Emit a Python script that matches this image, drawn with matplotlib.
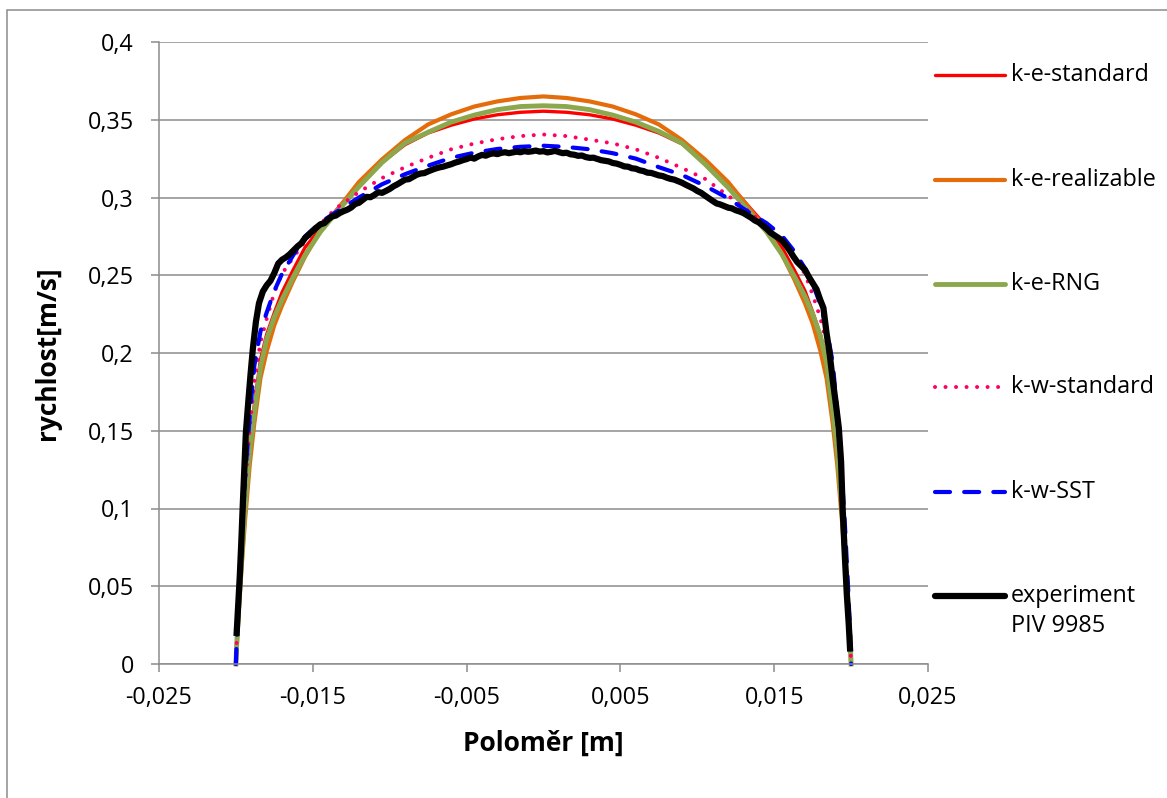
import matplotlib
matplotlib.use("Agg")
import matplotlib.pyplot as plt
from matplotlib.lines import Line2D
from matplotlib.patches import Rectangle

plt.rcParams['font.family'] = ['Open Sans', 'DejaVu Sans']

# ---- data -------------------------------------------------------------
# radial positions of the CFD profiles [m]
X_MODEL = [-0.0200, -0.01995, -0.0199, -0.0198, -0.0196, -0.0194, -0.0191, -0.0188,
           -0.0184, -0.0180, -0.0175, -0.0170, -0.0163, -0.0155, -0.0145, -0.0135,
           -0.0120, -0.0105, -0.0090, -0.0075, -0.0060, -0.0045, -0.0030, -0.0015,
           0.0,
           0.0015, 0.0030, 0.0045, 0.0060, 0.0075, 0.0090, 0.0105, 0.0120,
           0.0135, 0.0145, 0.0155, 0.0163, 0.0170, 0.0175, 0.0180, 0.0184,
           0.0188, 0.0191, 0.0194, 0.0196, 0.0198, 0.0199, 0.01995, 0.0200]

KE_STANDARD = [0.0, 0.013, 0.024, 0.043, 0.076, 0.105, 0.141, 0.167,
               0.196, 0.212, 0.226, 0.239, 0.253, 0.268, 0.280, 0.2915,
               0.3085, 0.3225, 0.334, 0.3415, 0.3465, 0.3505, 0.3532, 0.3548,
               0.3555,
               0.3548, 0.3532, 0.3505, 0.3465, 0.3415, 0.3345, 0.3235, 0.3095,
               0.2925, 0.2815, 0.268, 0.2535, 0.240, 0.2265, 0.212, 0.196,
               0.167, 0.141, 0.105, 0.076, 0.043, 0.024, 0.013, 0.0]

KE_REALIZABLE = [0.0, 0.010, 0.019, 0.036, 0.066, 0.093, 0.128, 0.155,
                 0.184, 0.201, 0.218, 0.2305, 0.246, 0.262, 0.279, 0.291,
                 0.310, 0.3245, 0.337, 0.347, 0.3535, 0.3585, 0.3618, 0.364,
                 0.365,
                 0.364, 0.3618, 0.3585, 0.3535, 0.347, 0.337, 0.3245, 0.310,
                 0.2915, 0.2795, 0.2635, 0.2475, 0.232, 0.219, 0.2015, 0.184,
                 0.155, 0.128, 0.093, 0.066, 0.036, 0.019, 0.010, 0.0]

KE_RNG = [0.0, 0.012, 0.022, 0.040, 0.072, 0.101, 0.137, 0.162,
          0.191, 0.209, 0.2233, 0.2345, 0.2484, 0.263, 0.278, 0.290,
          0.307, 0.3225, 0.335, 0.342, 0.3485, 0.353, 0.3565, 0.3585,
          0.359,
          0.3585, 0.3565, 0.353, 0.3485, 0.3425, 0.335, 0.3215, 0.3065,
          0.2895, 0.278, 0.2635, 0.2495, 0.2365, 0.225, 0.211, 0.194,
          0.163, 0.137, 0.101, 0.072, 0.040, 0.022, 0.012, 0.0]

KW_STANDARD = [0.0, 0.014, 0.026, 0.047, 0.083, 0.114, 0.152, 0.182,
               0.207, 0.222, 0.239, 0.251, 0.261, 0.272, 0.283, 0.293,
               0.3035, 0.3125, 0.3195, 0.3255, 0.331, 0.3347, 0.3375, 0.3395,
               0.3405,
               0.3395, 0.3372, 0.3348, 0.331, 0.3255, 0.319, 0.312, 0.3012,
               0.290, 0.2815, 0.2715, 0.261, 0.251, 0.2375, 0.2225, 0.207,
               0.182, 0.152, 0.114, 0.083, 0.047, 0.026, 0.014, 0.0]

KW_SST = [0.0, 0.015, 0.028, 0.050, 0.088, 0.120, 0.160, 0.192,
          0.214, 0.226, 0.240, 0.251, 0.2625, 0.275, 0.284, 0.2905,
          0.300, 0.3085, 0.315, 0.3205, 0.3255, 0.3288, 0.3312, 0.3326,
          0.3333,
          0.3325, 0.331, 0.3285, 0.325, 0.3195, 0.3145, 0.3075, 0.2995,
          0.2895, 0.2835, 0.2755, 0.2655, 0.2545, 0.2445, 0.2315, 0.216,
          0.194, 0.162, 0.121, 0.089, 0.050, 0.028, 0.015, 0.0]

# PIV measurement
X_EXP = [-0.01995, -0.01985, -0.01975, -0.01965, -0.01955, -0.01945, -0.01935, -0.01920,
         -0.01905, -0.01890, -0.01870, -0.01850, -0.01825, -0.01800, -0.01775, -0.01750,
         -0.01725, -0.01700, -0.01675, -0.01650, -0.01625, -0.01600, -0.01575, -0.01550,
         -0.01525, -0.01500, -0.01475, -0.01450, -0.01425, -0.01400, -0.01375, -0.01350,
         -0.01325, -0.01300, -0.01275, -0.01250, -0.01225, -0.01200, -0.01175, -0.01150,
         -0.01125, -0.01100, -0.01075, -0.01050, -0.01025, -0.01000, -0.00975, -0.00950,
         -0.00925, -0.00900, -0.00875, -0.00850, -0.00825, -0.00800, -0.00775, -0.00750,
         -0.00725, -0.00700, -0.00675, -0.00650, -0.00625, -0.00600, -0.00575, -0.00550,
         -0.00525, -0.00500, -0.00475, -0.00450, -0.00425, -0.00400, -0.00375, -0.00350,
         -0.00325, -0.00300, -0.00275, -0.00250, -0.00225, -0.00200, -0.00175, -0.00150,
         -0.00125, -0.00100, -0.00075, -0.00050, -0.00025, 0.00000, 0.00025, 0.00050,
         0.00075, 0.00100, 0.00125, 0.00150, 0.00175, 0.00200, 0.00225, 0.00250,
         0.00275, 0.00300, 0.00325, 0.00350, 0.00375, 0.00400, 0.00425, 0.00450,
         0.00475, 0.00500, 0.00525, 0.00550, 0.00575, 0.00600, 0.00625, 0.00650,
         0.00675, 0.00700, 0.00725, 0.00750, 0.00775, 0.00800, 0.00825, 0.00850,
         0.00875, 0.00900, 0.00925, 0.00950, 0.00975, 0.01000, 0.01025, 0.01050,
         0.01075, 0.01100, 0.01125, 0.01150, 0.01175, 0.01200, 0.01225, 0.01250,
         0.01275, 0.01300, 0.01325, 0.01350, 0.01375, 0.01400, 0.01425, 0.01450,
         0.01475, 0.01500, 0.01525, 0.01550, 0.01575, 0.01600, 0.01625, 0.01650,
         0.01675, 0.01700, 0.01725, 0.01750, 0.01775, 0.01800, 0.01820, 0.01840,
         0.01860, 0.01880, 0.01900, 0.01920, 0.01935, 0.01945, 0.01960, 0.01972,
         0.01985, 0.01993]

V_EXP = [0.0200, 0.0380, 0.0560, 0.0780, 0.1030, 0.1260, 0.1490, 0.1680,
         0.1860, 0.2025, 0.2200, 0.2320, 0.2395, 0.2435, 0.2465, 0.2515,
         0.2575, 0.2600, 0.2615, 0.2635, 0.2660, 0.2685, 0.2705, 0.2740,
         0.2762, 0.2785, 0.2808, 0.2828, 0.2835, 0.2860, 0.2878, 0.2884,
         0.2900, 0.2912, 0.2922, 0.2936, 0.2958, 0.2966, 0.2985, 0.3004,
         0.3002, 0.3016, 0.3034, 0.3030, 0.3042, 0.3055, 0.3072, 0.3085,
         0.3100, 0.3115, 0.3118, 0.3132, 0.3146, 0.3154, 0.3157, 0.3168,
         0.3178, 0.3187, 0.3194, 0.3199, 0.3207, 0.3214, 0.3224, 0.3231,
         0.3240, 0.3247, 0.3257, 0.3250, 0.3264, 0.3274, 0.3269, 0.3279,
         0.3284, 0.3279, 0.3287, 0.3291, 0.3285, 0.3290, 0.3295, 0.3291,
         0.3298, 0.3294, 0.3297, 0.3302, 0.3295, 0.3298, 0.3290, 0.3294,
         0.3300, 0.3292, 0.3285, 0.3288, 0.3278, 0.3275, 0.3268, 0.3270,
         0.3260, 0.3255, 0.3256, 0.3248, 0.3240, 0.3236, 0.3232, 0.3222,
         0.3218, 0.3210, 0.3200, 0.3198, 0.3188, 0.3185, 0.3175, 0.3170,
         0.3160, 0.3158, 0.3150, 0.3142, 0.3138, 0.3128, 0.3120, 0.3115,
         0.3105, 0.3095, 0.3082, 0.3070, 0.3058, 0.3042, 0.3030, 0.3012,
         0.2995, 0.2978, 0.2962, 0.2955, 0.2945, 0.2935, 0.2930, 0.2918,
         0.2910, 0.2900, 0.2885, 0.2870, 0.2852, 0.2840, 0.2820, 0.2800,
         0.2775, 0.2758, 0.2742, 0.2725, 0.2695, 0.2660, 0.2620, 0.2585,
         0.2560, 0.2535, 0.2490, 0.2450, 0.2410, 0.2340, 0.2290, 0.2130,
         0.2000, 0.1830, 0.1680, 0.1520, 0.1300, 0.1000, 0.0680, 0.0450,
         0.0250, 0.0100]

SERIES_NAMES = ["k-e-standard", "k-e-realizable", "k-e-RNG", "k-w-standard", "k-w-SST",
                "experiment\nPIV 9985"]

X_TICKS = [-0.025, -0.015, -0.005, 0.005, 0.015, 0.025]
X_TICK_LABELS = ["-0,025", "-0,015", "-0,005", "0,005", "0,015", "0,025"]
Y_TICKS = [0.0, 0.05, 0.10, 0.15, 0.20, 0.25, 0.30, 0.35, 0.40]
Y_TICK_LABELS = ["0", "0,05", "0,1", "0,15", "0,2", "0,25", "0,3", "0,35", "0,4"]

# ---- styling ----------------------------------------------------------
GRAY = "#8C8C8C"
W, H = 1167, 798
FS = 16.8

styles = [
    dict(color="#FF0000", lw=2.4, ls="-"),
    dict(color="#E46C0A", lw=3.0, ls="-"),
    dict(color="#8BA84C", lw=3.5, ls="-"),
    dict(color="#FF0066", lw=2.9, ls=(0, (0.01, 2.6)), dash_capstyle="round"),
    dict(color="#0000FF", lw=3.0, ls=(0, (3.6, 3.4)), dash_capstyle="round"),
    dict(color="#000000", lw=4.5, ls="-"),
]

fig = plt.figure(figsize=(W / 100, H / 100), dpi=100)
fig.patch.set_facecolor("white")

# outer chart frame
fig.patches.append(Rectangle((7 / W, -0.1), 1.2, 1 - 10 / H + 0.1,
                             transform=fig.transFigure, fill=False,
                             ec=GRAY, lw=1.1))

ax = fig.add_axes([159 / W, 1 - 664 / H, (928 - 159) / W, (664 - 42) / H])

profiles = [(X_MODEL, KE_STANDARD), (X_MODEL, KE_REALIZABLE), (X_MODEL, KE_RNG),
            (X_MODEL, KW_STANDARD), (X_MODEL, KW_SST), (X_EXP, V_EXP)]
for (xs, ys), st, name in zip(profiles, styles, SERIES_NAMES):
    ax.plot(xs, ys, label=name, clip_on=False, solid_joinstyle="round", **st)

ax.set_xlim(-0.025, 0.025)
ax.set_ylim(0, 0.4)
ax.set_xticks(X_TICKS)
ax.set_xticklabels(X_TICK_LABELS)
ax.set_yticks(Y_TICKS)
ax.set_yticklabels(Y_TICK_LABELS)
ax.tick_params(axis="both", direction="out", length=6, width=1.1, color=GRAY,
               labelsize=FS, labelcolor="black")
ax.tick_params(axis="x", pad=10)
ax.tick_params(axis="y", pad=12)

ax.yaxis.grid(True, color=GRAY, lw=1.1)
ax.set_axisbelow(True)
for side in ("top", "right"):
    ax.spines[side].set_visible(False)
for side in ("left", "bottom"):
    ax.spines[side].set_color(GRAY)
    ax.spines[side].set_linewidth(1.1)

ax.set_xlabel("Poloměr [m]", fontsize=19, fontweight="bold")
ax.xaxis.set_label_coords(0.5, -0.105)
ax.set_ylabel("rychlost[m/s]", fontsize=19, fontweight="bold")
ax.yaxis.set_label_coords(-0.128, 0.5)

# legend column on the right
rows_px = [75, 180, 284, 387, 492, 596]
for y_px, st, name in zip(rows_px, styles, SERIES_NAMES):
    yf = 1 - y_px / H
    fig.add_artist(Line2D([935 / W, 1005 / W], [yf, yf], transform=fig.transFigure,
                          solid_capstyle="round", **st))
    lines = name.split("\n")
    for k, line in enumerate(lines):
        fig.text(1011 / W, 1 - (y_px + 30 * k) / H, line, fontsize=FS,
                 ha="left", va="center")

fig.savefig("out.png", dpi=100, facecolor="white")
